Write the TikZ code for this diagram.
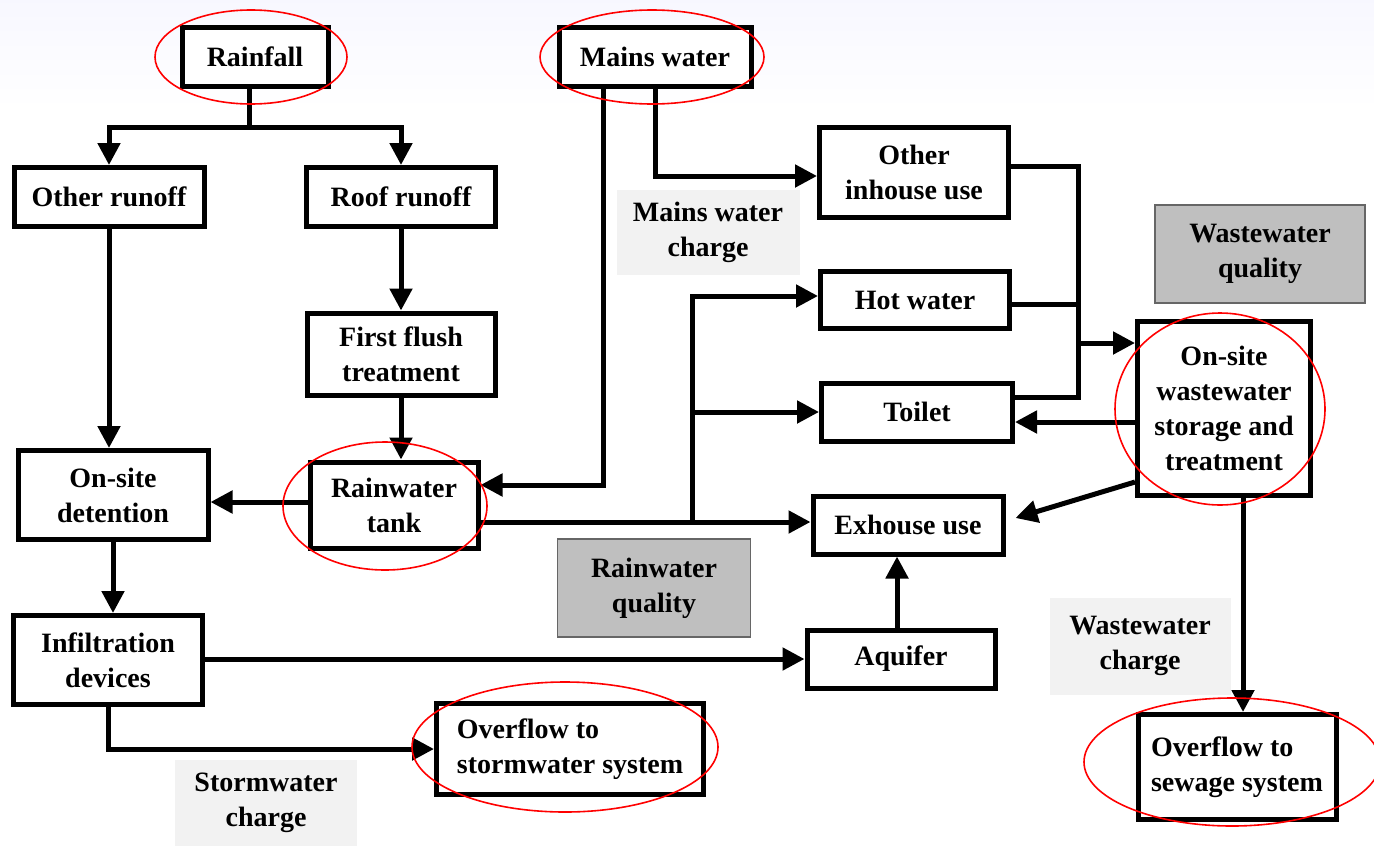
\documentclass[tikz,border=0pt]{standalone}
\usepackage{fontspec}
\setmainfont{Liberation Serif}
\usetikzlibrary{arrows.meta,calc}
\begin{document}
\begin{tikzpicture}[x=0.5pt,y=-0.5pt,
  box/.style={draw,line width=2.5pt,fill=white,align=center,font=\fontsize{14}{17.5}\selectfont\bfseries,inner sep=1pt},
  greybox/.style={draw=black!60,line width=0.7pt,fill=black!25,align=center,font=\fontsize{14}{17.5}\selectfont\bfseries,inner sep=1pt},
  charge/.style={fill=black!5,align=center,font=\fontsize{14}{17.5}\selectfont\bfseries,inner sep=1pt},
  line/.style={line width=2.5pt},
  arr/.style={line width=2.5pt,-{Triangle[length=11pt,width=11pt]}},
  redell/.style={draw=red,line width=0.8pt}]
\useasboundingbox (0,0) rectangle (1374,846);
\shade[top color=black!3!blue!3, bottom color=white] (0,0) rectangle (1374,110);
% nodes
\node[box,minimum width=73pt,minimum height=29.5pt] (rain) at (255,57) {Rainfall};
\node[box,minimum width=95pt,minimum height=29.5pt] (oth) at (109,197) {Other runoff};
\node[box,minimum width=94.5pt,minimum height=29.5pt] (roof) at (401,197) {Roof runoff};
\node[box,minimum width=94pt,minimum height=41pt] (flush) at (401,354) {First flush\\treatment};
\node[box,minimum width=84pt,minimum height=43pt] (tank) at (394,505) {Rainwater\\tank};
\node[box,minimum width=95pt,minimum height=44.5pt] (det) at (113,495) {On-site\\detention};
\node[box,minimum width=94.5pt,minimum height=44.5pt] (inf) at (108,660) {Infiltration\\devices};
\node[box,minimum width=133.5pt,minimum height=45.5pt,align=left] (storm) at (570,749) {Overflow to\\stormwater system};
\node[box,minimum width=96pt,minimum height=29.5pt] (mains) at (655,57) {Mains water};
\node[box,minimum width=94.5pt,minimum height=45pt] (inh) at (914,172) {Other\\inhouse use};
\node[box,minimum width=94.5pt,minimum height=28.5pt] (hot) at (915,300) {Hot water};
\node[box,minimum width=95.5pt,minimum height=29pt] (toi) at (917,412) {Toilet};
\node[box,minimum width=95pt,minimum height=29pt] (exh) at (908,525) {Exhouse use};
\node[box,minimum width=94pt,minimum height=29pt] (aq) at (901,659) {Aquifer};
\node[box,minimum width=86.5pt,minimum height=87pt] (ws) at (1224,408) {On-site\\wastewater\\storage and\\treatment};
\node[box,minimum width=99pt,minimum height=52.5pt,align=left] (sew) at (1237,767) {Overflow to\\sewage system};
\node[greybox,minimum width=96.5pt,minimum height=49pt] (rwq) at (654,588) {Rainwater\\quality};
\node[greybox,minimum width=105pt,minimum height=49pt] (wwq) at (1260,254) {Wastewater\\quality};
\node[charge,minimum width=91.5pt,minimum height=42.5pt] (mwc) at (708,232) {Mains water\\charge};
\node[charge,minimum width=91pt,minimum height=43pt] (stc) at (266,803) {Stormwater\\charge};
\node[charge,minimum width=90.5pt,minimum height=48.5pt] (wwc) at (1140,646) {Wastewater\\charge};
% connectors
\coordinate (split) at (249,127);
\draw[line] (rain.south -| split) -- (split);
\draw[arr] (split) -| (oth.north);
\draw[arr] (split) -| (roof.north);
\draw[arr] (roof.south) -- (roof.south |- flush.north);
\draw[arr] (flush.south) -- (flush.south |- tank.north);
\coordinate (t0) at (300,502);
\draw[arr] (tank.west |- t0) -- (det.east |- t0);
\draw[arr] (oth.south) -- (oth.south |- det.north);
\draw[arr] (det.south) -- (det.south |- inf.north);
\draw[arr] (inf.east |- aq.west) -- (aq.west);
\draw[arr] (inf.south) |- (storm.west);
\coordinate (m1) at (603,485);
\draw[arr] (mains.south -| m1) -- (m1) -- (m1 -| tank.east);
\draw[arr] (mains.south) |- ($(inh.west)+(0,4)$);
\coordinate (t1) at (692,522);
\draw[arr] (t1 -| tank.east) -- (t1 -| exh.west);
\draw[arr] (t1) |- ($(hot.west)+(0,-4)$);
\draw[arr] (t1 |- toi.west) -- (toi.west);
\coordinate (a1) at (897,0);
\draw[arr] (aq.north -| a1) -- (exh.south -| a1);
\coordinate (c) at (1078,343);
\draw[line] ($(inh.east)+(0,-6)$) -| (c);
\draw[line] ($(hot.east)+(0,4)$) -| (c);
\draw[line] ($(toi.east)+(0,-15)$) -| (c);
\draw[arr] (c) -- (c -| ws.west);
\coordinate (w1) at (1136,422);
\draw[arr] (w1 -| ws.west) -- (w1 -| toi.east);
\coordinate (w2) at (0,482);
\draw[arr] (ws.west |- w2) -- ($(exh.east)+(10,-7)$);
\coordinate (s1) at (1243,0);
\draw[arr] (ws.south -| s1) -- (sew.north -| s1);
% red ellipses
\begin{scope}
\clip (0,0) rectangle (1374,846);
\draw[redell] (251,57) ellipse [x radius=48pt, y radius=23.5pt];
\draw[redell] (652,57) ellipse [x radius=56pt, y radius=23.5pt];
\draw[redell] (385,506) ellipse [x radius=51pt, y radius=32pt];
\draw[redell] (565,747) ellipse [x radius=76.5pt, y radius=32.5pt];
\draw[redell] (1220,409) ellipse [x radius=52.5pt, y radius=48pt];
\draw[redell] (1232,762) ellipse [x radius=74pt, y radius=32pt];
\end{scope}
\end{tikzpicture}
\end{document}
